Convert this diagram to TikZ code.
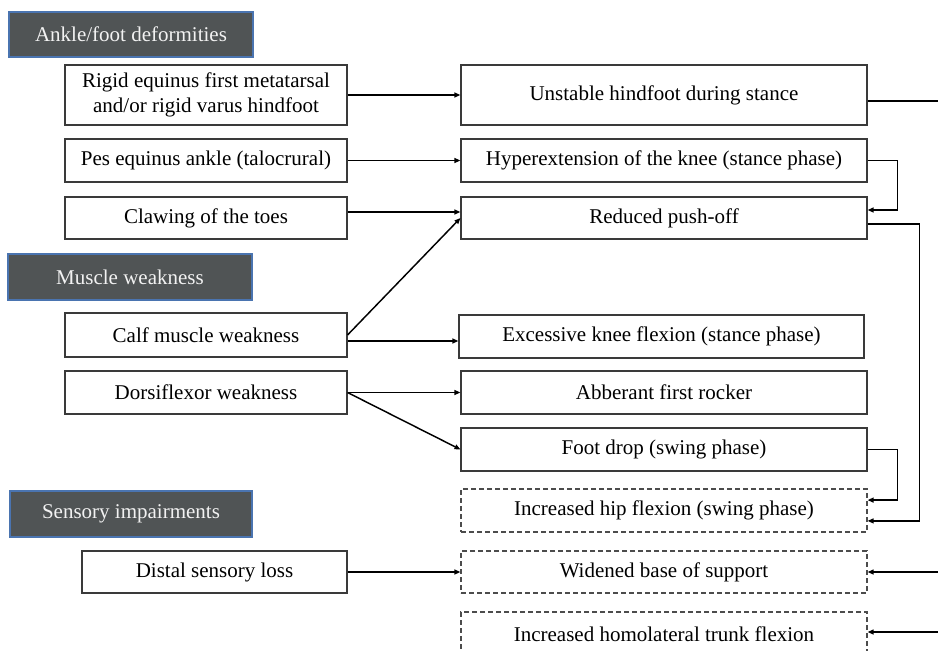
\documentclass[tikz,border=0pt]{standalone}
\usepackage{fontspec}
\setmainfont{Liberation Serif}
\usetikzlibrary{arrows.meta,calc}
\definecolor{hdrfill}{HTML}{505455}
\definecolor{hdrline}{HTML}{4A74B0}
\definecolor{hdrtext}{HTML}{F2F2F2}
\definecolor{boxline}{HTML}{3A3A3A}
\begin{document}
\begin{tikzpicture}[x=0.75pt,y=-0.75pt,
  every node/.style={font=\fontsize{15.75}{18.75}\selectfont, inner sep=0pt},
  hdrbox/.style n args={2}{fill=hdrfill, draw=hdrline, line width=0.8pt, text=hdrtext,
     minimum width=#1*0.75pt, minimum height=#2*0.75pt},
  box/.style n args={2}{draw=boxline, line width=0.8pt, align=center,
     minimum width=#1*0.75pt, minimum height=#2*0.75pt},
  dbox/.style n args={2}{draw=black!70, line width=0.8pt, dash pattern=on 3.5pt off 2.5pt, align=center,
     minimum width=#1*0.75pt, minimum height=#2*0.75pt},
  conn/.style={line width=1.1pt, black},
  arr/.style={conn, -{Triangle[length=4.5pt,width=3.6pt]}}]
\useasboundingbox (0,0) rectangle (938,650);

% headers
\node[hdrbox={244}{45}] (h1) at (131,34.5) {Ankle/foot deformities};
\node[hdrbox={244}{46}] (h2) at (130,277) {Muscle weakness};
\node[hdrbox={242}{46}] (h3) at (131,514) {Sensory impairments};

% left column
\node[box={282}{60}] (rigid) at (206,95) {Rigid equinus first metatarsal\\and/or rigid varus hindfoot};
\node[box={282}{43}] (pes) at (206,160.5) {Pes equinus ankle (talocrural)};
\node[box={282}{42}] (claw) at (206,218) {Clawing of the toes};
\node[box={282}{44}] (calf) at (206,335) {Calf muscle weakness};
\node[box={282}{43}] (dorsi) at (206,392.5) {Dorsiflexor weakness};
\node[box={265}{42}] (distal) at (214.5,572) {Distal sensory loss};

% right column
\node[box={406}{60}] (unst) at (664,95) {Unstable hindfoot during stance};
\node[box={406}{43}] (hyper) at (664,160.5) {Hyperextension of the knee (stance phase)};
\node[box={406}{42}] (push) at (664,218) {Reduced push-off};
\node[box={405}{43}] (exc) at (661.5,336.5) {Excessive knee flexion (stance phase)};
\node[box={406}{43}] (abb) at (664,392.5) {Abberant first rocker};
\node[box={406}{43}] (drop) at (664,449.5) {Foot drop (swing phase)};
\node[dbox={406}{43}] (hip) at (664,510.5) {Increased hip flexion (swing phase)};
\node[dbox={406}{42}] (wide) at (664,572) {Widened base of support};
\node[dbox={406}{44}] (trunk) at (664,634) {Increased homolateral trunk flexion};

% free ends at the right edge
\coordinate (e1) at (938,101);
\coordinate (e2) at (938,572);
\coordinate (e3) at (938,632);

% connectors
\draw[arr] (rigid.east) -- (unst.west);
\draw[arr] (pes.east) -- (hyper.west);
\draw[arr] ([yshift=4.5pt]claw.east) -- ([yshift=4.5pt]claw.east -| push.west);
\draw[arr] (calf.east) -- (push.west);
\draw[arr] ([yshift=-4.5pt]calf.east) -- ([yshift=-4.5pt]calf.east -| exc.west);
\draw[arr] (dorsi.east) -- (abb.west);
\draw[arr] (dorsi.east) -- (drop.west);
\draw[arr] (distal.east) -- (distal.east -| wide.west);

\draw[conn] (unst.east |- e1) -- (e1);
\draw[arr] (hyper.east) -- ++(30,0) |- ([yshift=6pt]push.east);
\draw[arr] ([yshift=-4.5pt]push.east) -- ++(52,0) |- ([yshift=-7.8pt]hip.east);
\draw[arr] (drop.east) -- ++(30,0) |- ([yshift=7.8pt]hip.east);
\draw[arr] (e2) -- (e2 -| wide.east);
\draw[arr] (e3) -- (e3 -| trunk.east);
\end{tikzpicture}
\end{document}
